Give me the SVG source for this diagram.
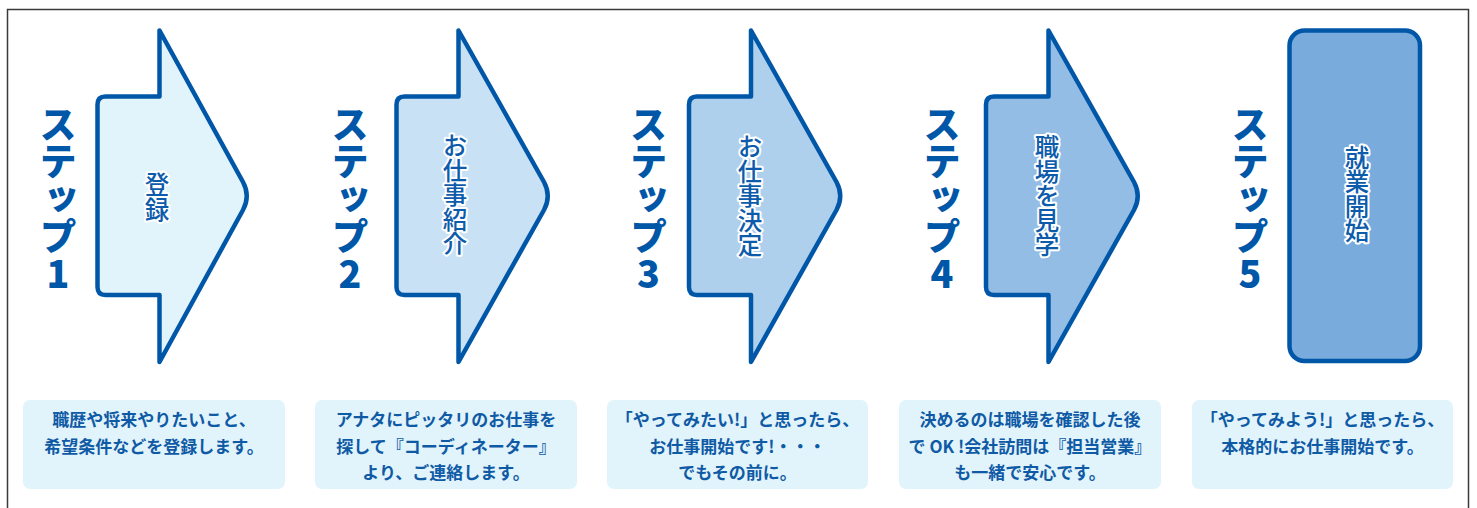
<svg xmlns="http://www.w3.org/2000/svg" width="1477" height="508" viewBox="0 0 1477 508">
<style>
.frame{fill:none;stroke:#3a3a3a;stroke-width:1.5}
.arrow{stroke:#0057a8;stroke-width:4.5;stroke-linejoin:round}
.step{font-family:"Noto Sans CJK JP","Noto Sans",sans-serif;font-weight:900;font-size:37.5px;fill:#0057a8;writing-mode:vertical-rl;text-orientation:upright}
.inner{font-family:"Noto Sans CJK JP","Noto Sans",sans-serif;font-weight:500;font-size:24.5px;fill:#0d5bab;stroke:#ffffff;stroke-width:4;stroke-linejoin:round;paint-order:stroke;writing-mode:vertical-rl;text-orientation:upright}
.box{fill:#e1f3fb}
.desc{font-family:"Noto Sans CJK JP","Noto Sans",sans-serif;font-weight:600;font-size:17px;fill:#0f5aa5}
</style>
<rect class="frame" x="7.5" y="9.5" width="1461" height="520"/>

<g id="step1">
<path class="arrow" fill="#e1f3fb" d="M159.5,96.5 L105.5,96.5 Q97.5,96.5 97.5,104.5 L97.5,287 Q97.5,295 105.5,295 L159.5,295 L159.5,362 L243,210 Q250.5,196 243,182 L159.5,30.5 Z"/>
<text class="step" x="58" y="198.5" text-anchor="middle">ステップ1</text>
<text class="inner" x="157" y="197" text-anchor="middle">登録</text>
</g>

<g id="step2">
<path class="arrow" fill="#c9e1f4" d="M458.5,96.5 L404.5,96.5 Q396.5,96.5 396.5,104.5 L396.5,287 Q396.5,295 404.5,295 L458.5,295 L458.5,362 L544,210 Q551.5,196 544,182 L458.5,30.5 Z"/>
<text class="step" x="350" y="198.5" text-anchor="middle">ステップ2</text>
<text class="inner" x="455" y="195" text-anchor="middle">お仕事紹介</text>
</g>

<g id="step3">
<path class="arrow" fill="#afd0ed" d="M751,96.5 L697,96.5 Q689,96.5 689,104.5 L689,287 Q689,295 697,295 L751,295 L751,362 L836.5,210 Q844,196 836.5,182 L751,30.5 Z"/>
<text class="step" x="648.5" y="198.5" text-anchor="middle">ステップ3</text>
<text class="inner" x="750" y="196" text-anchor="middle">お仕事決定</text>
</g>

<g id="step4">
<path class="arrow" fill="#93bde5" d="M1048.5,96.5 L994,96.5 Q986,96.5 986,104.5 L986,287 Q986,295 994,295 L1048.5,295 L1048.5,362 L1134,210 Q1141.5,196 1134,182 L1048.5,30.5 Z"/>
<text class="step" x="942" y="198.5" text-anchor="middle">ステップ4</text>
<text class="inner" x="1047" y="196" text-anchor="middle">職場を見学</text>
</g>

<g id="step5">
<rect class="arrow" fill="#79acdc" x="1289.5" y="30.5" width="130.5" height="330.5" rx="15"/>
<text class="step" x="1250" y="198.5" text-anchor="middle">ステップ5</text>
<text class="inner" x="1357" y="194" text-anchor="middle">就業開始</text>
</g>

<g id="desc1">
<rect class="box" x="23" y="400" width="262" height="89" rx="7"/>
<text class="desc" text-anchor="middle" x="154"><tspan x="154" y="426">職歴や将来やりたいこと、</tspan><tspan x="154" y="453">希望条件などを登録します。</tspan></text>
</g>
<g id="desc2">
<rect class="box" x="315" y="400" width="262" height="89" rx="7"/>
<text class="desc" text-anchor="middle" x="446"><tspan x="446" y="426">アナタにピッタリのお仕事を</tspan><tspan x="446" y="452.5">探して『コーディネーター』</tspan><tspan x="446" y="479">より、ご連絡します。</tspan></text>
</g>
<g id="desc3">
<rect class="box" x="607" y="400" width="261" height="89" rx="7"/>
<text class="desc" text-anchor="middle" x="737.5"><tspan x="737.5" y="426">「やってみたい!」と思ったら、</tspan><tspan x="737.5" y="452.5">お仕事開始です!・・・</tspan><tspan x="737.5" y="479">でもその前に。</tspan></text>
</g>
<g id="desc4">
<rect class="box" x="899" y="400" width="262" height="89" rx="7"/>
<text class="desc" text-anchor="middle" x="1030"><tspan x="1030" y="426">決めるのは職場を確認した後</tspan><tspan x="1030" y="452.5">で OK !会社訪問は『担当営業』</tspan><tspan x="1030" y="479">も一緒で安心です。</tspan></text>
</g>
<g id="desc5">
<rect class="box" x="1192" y="400" width="261" height="89" rx="7"/>
<text class="desc" text-anchor="middle" x="1322.5"><tspan x="1322.5" y="426">「やってみよう!」と思ったら、</tspan><tspan x="1322.5" y="453">本格的にお仕事開始です。</tspan></text>
</g>
</svg>
